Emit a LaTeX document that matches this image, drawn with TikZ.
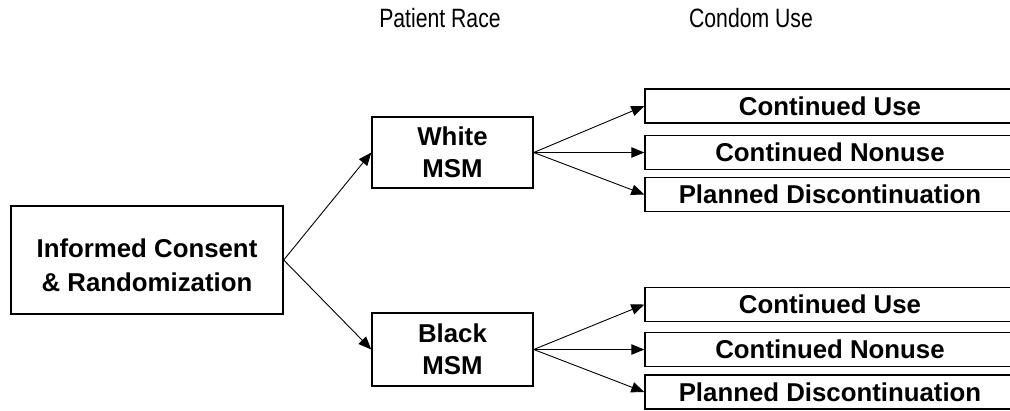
\documentclass[tikz,border=0pt]{standalone}
\usepackage{fontspec}
\setmainfont{Liberation Sans}
\newfontfamily\hdrfont[FakeStretch=0.80]{Liberation Sans}
\usetikzlibrary{arrows.meta}
\begin{document}
\begin{tikzpicture}[x=1pt,y=-1pt,
  box/.style={draw,line width=1.4pt,rectangle,inner sep=0pt,align=center,
    font=\fontsize{25.8}{32}\selectfont\bfseries},
  boxtext/.style={inner sep=0pt,align=center,font=\fontsize{25.8}{34}\selectfont\bfseries},
  outbox/.style={box,minimum width=370pt,minimum height=34pt},
  hdr/.style={font=\hdrfont\fontsize{26.5}{30}\selectfont,inner sep=0pt},
  arr/.style={line width=0.9pt,-{Triangle[length=13pt,width=10.5pt]}}]
\useasboundingbox (0,0) rectangle (1010,410);
\clip (0,0) rectangle (1010,410);
\node[hdr] (h1) at (440,18) {Patient Race};
\node[hdr] (h2) at (751,18) {Condom Use};
\node[box,minimum width=272pt,minimum height=108pt] (main) at (147,260) {};
\node[boxtext] (maintext) at ([yshift=-5pt]main.center) {Informed Consent\\ \& Randomization};
\node[box,minimum width=161pt,minimum height=71pt] (white) at (452.5,152.5) {White\\MSM};
\node[box,minimum width=161pt,minimum height=73pt] (black) at (452.5,349.5) {Black\\MSM};
\node[outbox] (w1) at (830,106) {Continued Use};
\node[outbox] (w2) at (830,152.5) {Continued Nonuse};
\node[outbox] (w3) at (830,194.5) {Planned Discontinuation};
\node[outbox] (b1) at (830,304.5) {Continued Use};
\node[outbox] (b2) at (830,349.5) {Continued Nonuse};
\node[outbox] (b3) at (830,392) {Planned Discontinuation};
\draw[arr] (main.east) -- (white.west);
\draw[arr] (main.east) -- (black.west);
\draw[arr] (white.east) -- (w1.west);
\draw[arr] (white.east) -- (w2.west);
\draw[arr] (white.east) -- (w3.west);
\draw[arr] (black.east) -- (b1.west);
\draw[arr] (black.east) -- (b2.west);
\draw[arr] (black.east) -- (b3.west);
\end{tikzpicture}
\end{document}
